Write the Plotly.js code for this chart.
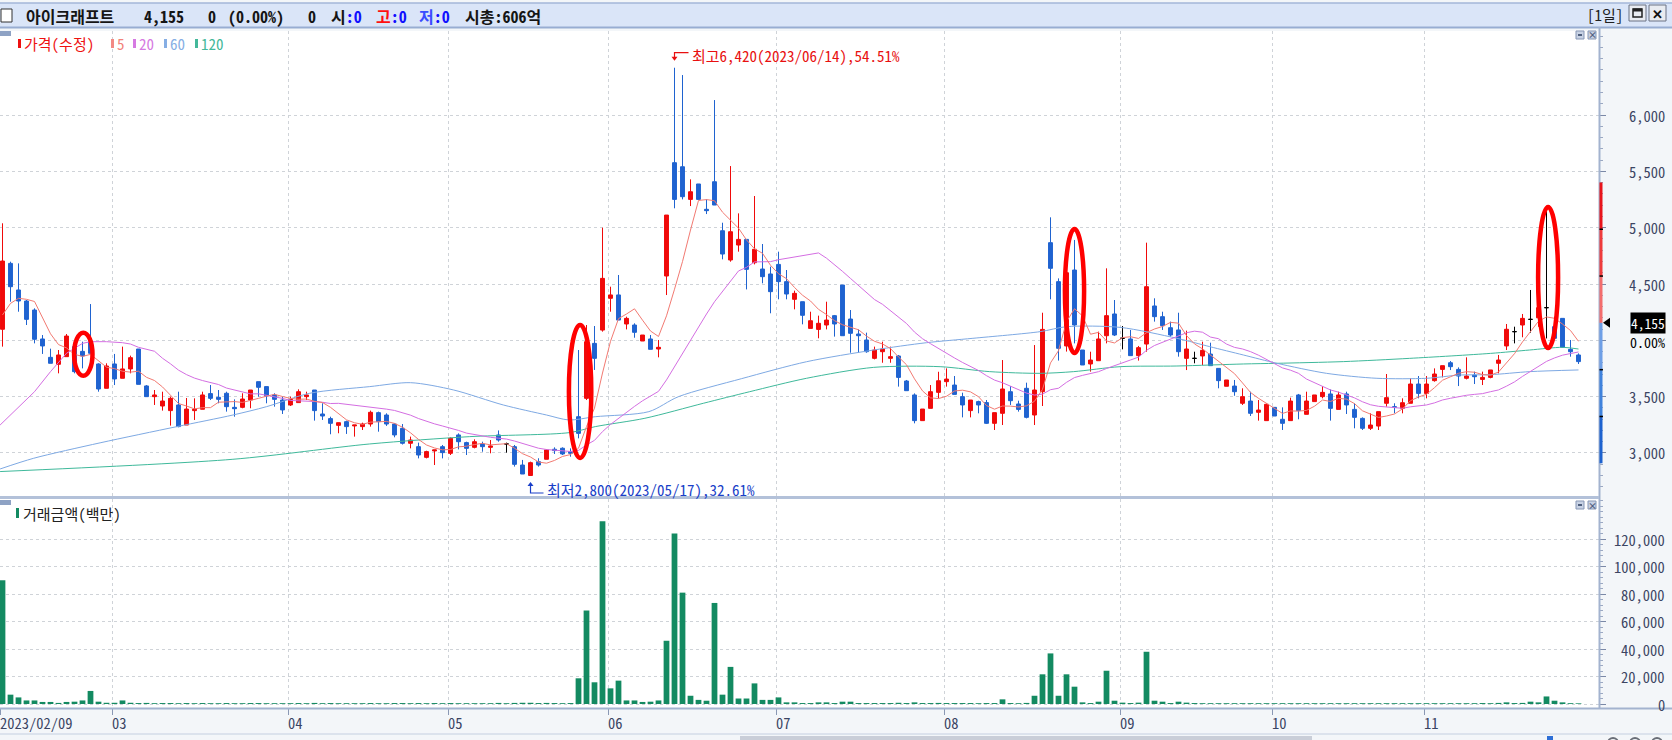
<!DOCTYPE html>
<html>
<head>
<meta charset="utf-8">
<script src="https://cdn.plot.ly/plotly-3.0.1.min.js"></script>
<style>
html,body{margin:0;padding:0;background:#f3f6f9;overflow:hidden;}
#chart{width:1672px;height:740px;}
</style>
</head>
<body>
<div id="chart"></div>
<script>
// ================= DATA =================
const stockName = '아이크래프트';
const currentPrice = 4155;
const marketCapText = '606억';

const tradingDays = {
  '2023/02': [9,10,13,14,15,16,17,20,21,22,23,24,27,28],
  '2023/03': [2,3,6,7,8,9,10,13,14,15,16,17,20,21,22,23,24,27,28,29,30,31],
  '2023/04': [3,4,5,6,7,10,11,12,13,14,17,18,19,20,21,24,25,26,27,28],
  '2023/05': [2,3,4,8,9,10,11,12,15,16,17,18,19,22,23,24,25,26,30,31],
  '2023/06': [1,2,5,7,8,9,12,13,14,15,16,19,20,21,22,23,26,27,28,29,30],
  '2023/07': [3,4,5,6,7,10,11,12,13,14,17,18,19,20,21,24,25,26,27,28,31],
  '2023/08': [1,2,3,4,7,8,9,10,11,14,16,17,18,21,22,23,24,25,28,29,30,31],
  '2023/09': [1,4,5,6,7,8,11,12,13,14,15,18,19,20,21,22,25,26,27],
  '2023/10': [4,5,6,10,11,12,13,16,17,18,19,20,23,24,25,26,27,30,31],
  '2023/11': [1,2,3,6,7,8,9,10,13,14,15,16,17,20,21,22,23,24,27,28]
};

const openP = [
 4098,4683,4447,4349,4269,4012,3849,3787,3855,3944,
 3902,3988,3790,3574,3790,3663,3746,3923,3595,3500,
 3417,3376,3426,3248,3376,3388,3527,3494,3530,3405,
 3405,3470,3633,3589,3515,3470,3426,3447,3500,3559,
 3346,3305,3245,3278,3240,3234,3257,3358,3337,3257,
 3219,3086,3056,2961,3018,3056,2997,3160,3092,3050,
 3080,3050,3160,3080,3056,2893,2800,2923,2944,3033,
 3042,3012,3322,3485,3973,4091,4373,4403,4145,4136,
 3994,4012,3923,4571,5577,5541,5251,5388,5163,5408,
 4973,4713,4846,4896,4689,4633,4589,4674,4521,4364,
 4343,4106,4097,4136,4219,4491,4189,4056,4003,3840,
 3899,3840,3861,3639,3515,3287,3396,3538,3633,3603,
 3500,3376,3456,3447,3263,3352,3544,3435,3574,3337,
 3544,4867,4521,3950,4624,3914,3790,3819,4041,4234,
 4018,4012,3864,3967,4305,4210,4112,4092,3840,3840,
 3861,3878,3751,3592,3594,3441,3461,3361,3287,3405,
 3299,3287,3515,3343,3456,3500,3524,3387,3524,3387,
 3307,3219,3239,3441,3411,3396,3441,3612,3529,3642,
 3742,3801,3742,3663,3692,3653,3671,3796,3950,4077,
 4136,4186,4200,4290,4121,4195,3920,3870];
const highP = [
 5039,4698,4683,4358,4284,4047,3926,3914,4056,3958,
 3988,4322,3796,3796,3879,3944,3864,3923,3603,3559,
 3544,3500,3544,3488,3485,3544,3603,3559,3544,3476,
 3530,3559,3633,3589,3530,3500,3500,3565,3544,3559,
 3441,3322,3269,3287,3248,3269,3376,3367,3352,3263,
 3257,3145,3092,3020,3027,3071,3139,3174,3100,3121,
 3100,3115,3200,3092,3071,2938,2923,2953,3030,3050,
 3050,3041,3914,4136,4127,5000,4476,4580,4210,4151,
 4047,4047,4003,5112,6420,6355,5429,5388,5251,6133,
 5044,5547,5127,4896,5281,4855,4654,4787,4624,4441,
 4343,4254,4219,4343,4225,4491,4269,4097,4068,3944,
 3988,3944,3870,3648,3529,3390,3603,3721,3751,3683,
 3535,3470,3464,3470,3358,3825,3594,3464,3624,3958,
 4245,5092,4550,4700,4891,3914,3899,4077,4639,4358,
 4127,4092,3950,4867,4373,4254,4166,4245,4086,3899,
 3988,3979,3751,3648,3648,3574,3544,3470,3441,3405,
 3405,3491,3524,3544,3515,3594,3564,3544,3544,3441,
 3316,3352,3367,3701,3441,3485,3663,3683,3683,3751,
 3775,3816,3760,3849,3722,3722,3737,3870,4145,4121,
 4234,4447,4400,5157,4210,4195,4003,3884];
const lowP = [
 3944,4343,4254,4136,3973,3879,3796,3707,3855,3707,
 3751,3885,3544,3574,3603,3663,3707,3609,3500,3426,
 3376,3243,3228,3248,3293,3388,3470,3441,3367,3322,
 3397,3397,3500,3441,3411,3346,3417,3447,3470,3287,
 3293,3166,3175,3169,3145,3204,3234,3189,3240,3139,
 3075,3041,2952,2952,2893,2952,2982,3032,2982,3041,
 3011,2997,3100,3003,2879,2813,2800,2879,2944,2991,
 2982,2967,3130,3470,3737,4077,4254,4180,4097,4023,
 3994,3920,3849,4402,5172,5251,5192,5251,5121,5201,
 4719,4698,4787,4452,4674,4506,4240,4364,4364,4275,
 4142,4106,4018,4097,4033,4041,3890,3890,3890,3831,
 3801,3801,3589,3553,3263,3287,3396,3485,3589,3520,
 3316,3316,3352,3257,3204,3248,3426,3367,3307,3248,
 3417,4364,3820,3900,3973,3781,3722,3819,3973,4038,
 3920,3864,3820,3899,4166,4092,4032,3855,3736,3796,
 3781,3775,3574,3592,3508,3426,3328,3287,3287,3328,
 3204,3287,3299,3343,3456,3485,3287,3387,3346,3219,
 3204,3204,3204,3411,3352,3352,3441,3485,3485,3633,
 3671,3736,3594,3653,3612,3603,3663,3707,3914,3973,
 4027,4068,4120,4017,4018,3938,3855,3790];
const closeP = [
 4704,4476,4349,4186,4009,3950,3796,3870,4038,3722,
 3861,3885,3568,3772,3657,3746,3846,3609,3500,3515,
 3461,3485,3234,3390,3388,3515,3485,3476,3411,3393,
 3479,3559,3583,3506,3476,3382,3476,3544,3515,3376,
 3328,3263,3269,3234,3248,3257,3361,3278,3257,3160,
 3086,3115,2982,3012,3027,3003,3130,3100,3041,3100,
 3056,3062,3115,3080,2899,2813,2914,2893,3027,3021,
 2991,2997,3174,3988,3840,4550,4403,4180,4195,4071,
 4047,3920,3938,5112,5251,5275,5319,5251,5151,5201,
 4766,4964,4896,4630,4808,4565,4432,4521,4411,4417,
 4222,4174,4151,4180,4145,4041,4062,4041,3899,3914,
 3923,3855,3671,3553,3287,3390,3544,3641,3656,3520,
 3426,3470,3426,3263,3358,3568,3464,3387,3316,3559,
 4097,4639,3929,4600,4136,3781,3825,4012,4219,4047,
 4018,3864,3935,4476,4210,4130,4047,3899,3923,3840,
 3911,3775,3642,3648,3544,3500,3352,3381,3432,3328,
 3263,3461,3376,3461,3515,3538,3396,3515,3426,3316,
 3219,3248,3367,3491,3405,3446,3612,3529,3612,3701,
 3775,3766,3683,3683,3677,3671,3737,3825,4098,4077,
 4195,4186,4290,4290,4018,3938,3899,3811];
// 거래금액 (백만원)
const tradeValue = [
 90000,6800,4800,2600,2600,1500,1500,800,1500,1700,
 2600,9500,1700,900,900,2600,900,700,800,600,
 700,700,600,700,600,700,600,600,700,600,
 600,700,700,600,600,600,600,700,600,800,
 600,700,600,600,600,600,700,600,600,700,
 700,600,700,600,700,600,700,600,600,600,
 600,600,800,600,800,900,900,700,800,700,
 600,700,18700,68000,15800,133000,11400,17000,2600,2600,
 1500,1700,2600,46000,124000,81000,6000,3000,2400,73500,
 6800,27000,4000,4000,15000,3000,3000,4800,1200,1200,
 700,700,1200,1200,700,1700,1700,700,700,700,
 700,700,900,700,1200,700,700,800,700,700,
 700,700,600,700,700,3400,700,600,800,6000,
 21600,36800,6000,21600,12600,1200,700,1700,24200,2400,
 1000,700,1000,38000,2400,1700,700,1700,1000,700,
 600,600,600,600,600,600,600,600,600,600,
 600,600,600,600,600,600,600,600,600,600,
 600,600,600,600,600,600,600,600,600,600,
 600,600,600,600,600,700,600,800,1200,700,
 800,1700,1200,5500,2400,1200,600,500];

// moving averages: first values (before enough data in view)
const ma5HeadIdx = [0,1,2,3];
const ma5HeadVal = [4225,4328,4373,4364];
const ma20HeadIdx = [-0.3,2,4,6,8,10,11,13,15,16,17];
const ma20HeadVal = [3248,3411,3544,3722,3885,3973,3988,3988,3979,3967,3938];
// 60 / 120 day averages
const ma60Idx = [-0.3,3.9,12.2,21.8,28.8,33,38.4,45.9,51,56.4,62.6,68,70.8,74.1,80.8,84.5,92.4,100.5,108.9,115.5,121.3,129.7,133,139.7,146.8,150.9,155.1,159.3,165.5,171.8,178,182.2,186,190.9,197];
const ma60Val = [2858,2953,3090,3234,3337,3411,3530,3589,3624,3559,3426,3337,3293,3322,3367,3500,3660,3810,3914,3979,4018,4077,4121,4115,4018,3944,3870,3796,3707,3663,3663,3692,3695,3722,3737];
const ma120Idx = [-0.3,28.8,45.9,58.4,70.9,74.1,80.3,87.6,93.4,100.5,108.9,117.2,123.4,129.7,133.9,139.7,146.8,155.1,159.3,167.6,175.9,186,190.9,195,197];
const ma120Val = [2835,2944,3080,3145,3181,3234,3308,3441,3544,3663,3760,3766,3722,3707,3722,3766,3772,3790,3796,3811,3840,3884,3914,3938,3923];

const monthTickIdx = [0,14,36,56,76,97,118,140,159,178];
const monthTickText = ['2023/02/09','03','04','05','06','07','08','09','10','11'];
const priceTicks = [3000,3500,4000,4500,5000,5500,6000];
const volTicks = [0,20000,40000,60000,80000,100000,120000];

// hand-drawn red ellipses on the chart (candle index, price span)
const circled = [
  {i:10.1, top:4068, bottom:3686, half:1.15},
  {i:72.2, top:4136, bottom:2956, half:1.4},
  {i:134,  top:4988, bottom:3888, half:1.2},
  {i:193.2,top:5183, bottom:3932, half:1.25}
];

// ================= BUILD =================
const dates = [];
for (const m in tradingDays) tradingDays[m].forEach(d => dates.push(m + '/' + String(d).padStart(2,'0')));
const N = closeP.length;
const idx = closeP.map((_, i) => i);

const UP = '#f00a0a', DN = '#1f63d0', DOJI = '#000000';
const MONO = "'Noto Sans Mono CJK KR','DejaVu Sans Mono',monospace";
const SANS = "'Noto Sans CJK KR','Noto Sans',sans-serif";

// pixel frame
const PL = 0, PR = 1599, PT = 31, PB = 708;
const PW = PR - PL, PH = PB - PT;
const xp = px => (px - PL) / PW;
const yp = py => (PB - py) / PH;
const priceDomain = [yp(496), 1];
const volDomain = [0, yp(499)];
const priceRange = [2618, 6746];
const volRange = [-2900, 149100];
const wonPerPx = (priceRange[1] - priceRange[0]) / (496 - PT);
const idxPerPx = 1 / 8;

function candleTrace(cond, color) {
  const t = {x: [], open: [], high: [], low: [], close: []};
  for (let i = 0; i < N; i++) if (cond(i)) {
    t.x.push(i); t.open.push(openP[i]); t.high.push(highP[i]); t.low.push(lowP[i]); t.close.push(closeP[i]);
  }
  return Object.assign(t, {
    type: 'candlestick', xaxis: 'x', yaxis: 'y', whiskerwidth: 0,
    increasing: {line: {color: color, width: 1}, fillcolor: color},
    decreasing: {line: {color: color, width: 1}, fillcolor: color},
    hoverinfo: 'none', showlegend: false
  });
}
const avg = a => a.reduce((s, v) => s + v, 0) / a.length;

const ma5x = ma5HeadIdx.slice(), ma5y = ma5HeadVal.slice();
for (let i = 4; i < N; i++) { ma5x.push(i); ma5y.push(avg(closeP.slice(i - 4, i + 1))); }
const ma20x = ma20HeadIdx.slice(), ma20y = ma20HeadVal.slice();
for (let i = 19; i < N; i++) { ma20x.push(i); ma20y.push(avg(closeP.slice(i - 19, i + 1))); }

function maTrace(x, y, color, spline) {
  return {type: 'scatter', mode: 'lines', x: x, y: y, xaxis: 'x', yaxis: 'y',
    line: {color: color, width: 1, shape: spline ? 'spline' : 'linear', smoothing: 0.8},
    hoverinfo: 'none', showlegend: false};
}

const traces = [
  maTrace(ma120Idx, ma120Val, '#3fb99b', true),
  maTrace(ma60Idx, ma60Val, '#7ea9e3', true),
  maTrace(ma20x, ma20y, '#d46ee2', false),
  maTrace(ma5x, ma5y, '#f27a72', false),
  candleTrace(i => closeP[i] > openP[i], UP),
  candleTrace(i => closeP[i] < openP[i], DN),
  candleTrace(i => closeP[i] === openP[i], DOJI),
  {type: 'bar', x: idx, y: tradeValue, xaxis: 'x', yaxis: 'y2', width: 0.72,
   marker: {color: '#138a61', line: {width: 0}}, hoverinfo: 'none', showlegend: false}
];

// ================= DECORATION =================
const shapes = [];
const annotations = [];
function rectPx(x0, y0, x1, y1, fill, line) {
  shapes.push({type: 'rect', xref: 'paper', yref: 'paper', x0: xp(x0), x1: xp(x1), y0: yp(y1), y1: yp(y0),
    fillcolor: fill, line: line || {width: 0}, layer: 'above'});
}
function linePx(x0, y0, x1, y1, color, w) {
  shapes.push({type: 'line', xref: 'paper', yref: 'paper', x0: xp(x0), x1: xp(x1), y0: yp(y0), y1: yp(y1),
    line: {color: color, width: w || 1}, layer: 'above'});
}
function circlePx(cx, cy, r, color) {
  shapes.push({type: 'circle', xref: 'paper', yref: 'paper', x0: xp(cx - r), x1: xp(cx + r), y0: yp(cy + r), y1: yp(cy - r),
    line: {color: color, width: 2}, fillcolor: 'rgba(0,0,0,0)', layer: 'above'});
}
function textPx(x, y, text, size, color, anchor, family, weight) {
  annotations.push({xref: 'paper', yref: 'paper', x: xp(x), y: yp(y), text: text, showarrow: false,
    xanchor: anchor || 'left', yanchor: 'middle', borderpad: 0,
    font: {family: family || MONO, size: size, color: color, weight: weight || 'normal'}});
}

// header band
rectPx(0, 3, 1672, 27, '#dae5f8');
linePx(0, 3, 1672, 3, '#a3b6d8', 1.5);
linePx(0, 27.5, 1672, 27.5, '#98add2', 2);
rectPx(1, 9, 12, 22, '#ffffff', {color: '#333333', width: 1});
textPx(25, 16, stockName, 16, '#151515', 'left', MONO, 'bold');
textPx(143, 16, currentPrice.toLocaleString('en-US'), 16, '#151515', 'left', MONO, 'bold');
textPx(207, 16, '0', 16, '#151515', 'left', MONO, 'bold');
textPx(227, 16, '(0.00%)', 16, '#151515', 'left', MONO, 'bold');
textPx(307, 16, '0', 16, '#151515', 'left', MONO, 'bold');
textPx(330, 16, "시<span style='color:#1010ff'>:0</span>", 16, '#151515', 'left', MONO, 'bold');
textPx(375, 16, "<span style='color:#ff1010'>고</span><span style='color:#1010ff'>:0</span>", 16, '#151515', 'left', MONO, 'bold');
textPx(418, 16, "<span style='color:#3a4cff'>저</span><span style='color:#1010ff'>:0</span>", 16, '#151515', 'left', MONO, 'bold');
textPx(464, 16, '시총:' + marketCapText, 16, '#151515', 'left', MONO, 'bold');
textPx(1586, 15, '[1일]', 15, '#202020', 'left', MONO);
rectPx(1629, 5, 1646, 21, '#e9ecf1', {color: '#6b7384', width: 1});
rectPx(1649, 5, 1666, 21, '#e9ecf1', {color: '#6b7384', width: 1});
rectPx(1633, 9, 1642, 17, 'rgba(0,0,0,0)', {color: '#222', width: 1.5});
linePx(1633, 10, 1642, 10, '#222', 3);
textPx(1657.5, 13.5, '✕', 13, '#111', 'center', SANS, 'bold');

// right axis area frame lines
linePx(1599.5, 27, 1599.5, 708, '#a3b3cf', 2);
linePx(0, 708.5, 1672, 708.5, '#a3b3cf', 2);
rectPx(0, 496, 1599, 499, '#b3c1d9');
linePx(0, 734, 1672, 734, '#c4cfe0', 1);
rectPx(740, 736, 1312, 740, '#c9ced8');
rectPx(1547, 736, 1553, 740, '#2d6fd6');
circlePx(1613, 743, 5, '#6a6f78');
circlePx(1635, 743, 5, '#6a6f78');
circlePx(1657, 743, 5, '#6a6f78');

// panel handles and buttons
rectPx(0, 31, 11, 36, '#8ea2c4');
rectPx(0, 500, 11, 505, '#8ea2c4');
[[31, 39], [501, 509]].forEach(([a, b]) => {
  rectPx(1576, a, 1584, b, '#c8d2e4', {color: '#8797b5', width: 1});
  rectPx(1588, a, 1596, b, '#c8d2e4', {color: '#8797b5', width: 1});
  linePx(1578, (a + b) / 2, 1582, (a + b) / 2, '#50607e', 2);
  textPx(1592, (a + b) / 2, '×', 9, '#50607e', 'center', SANS, 'bold');
});

// legend of price panel
const legendItems = [
  {x: 18, label: '가격(수정)', color: '#ee1111', text: '#ee1111'},
  {x: 111, label: '5', color: '#f28a84', text: '#f2827a'},
  {x: 133, label: '20', color: '#d67ae2', text: '#d67ae2'},
  {x: 164, label: '60', color: '#86aee4', text: '#86aee4'},
  {x: 195, label: '120', color: '#44b89a', text: '#44b89a'}
];
legendItems.forEach(it => {
  rectPx(it.x, 39, it.x + 3, 48, it.color);
  textPx(it.x + 5, 43.5, it.label, 15, it.text, 'left', MONO);
});
rectPx(16, 508, 19, 518, '#138a61');
textPx(22, 513, '거래금액(백만)', 15, '#222222', 'left', MONO);

// y tick labels (right aligned)
const LBLX = xp(1666);
priceTicks.forEach(v => {
  if (Math.abs(v - currentPrice) < 200) return;
  annotations.push({xref: 'paper', yref: 'y', x: LBLX, y: v, text: v.toLocaleString('en-US'), borderpad: 0,
    showarrow: false, xanchor: 'right', yanchor: 'middle', font: {family: MONO, size: 14.5, color: '#3c4563'}});
});
volTicks.forEach(v => {
  annotations.push({xref: 'paper', yref: 'y2', x: LBLX, y: v, text: v.toLocaleString('en-US'), borderpad: 0,
    showarrow: false, xanchor: 'right', yanchor: 'middle', font: {family: MONO, size: 14.5, color: '#3c4563'}});
});
// x tick labels (left aligned at tick)
monthTickIdx.forEach((i, k) => {
  annotations.push({xref: 'x', yref: 'paper', x: i - 0.25, y: yp(722.5), text: monthTickText[k], borderpad: 0,
    showarrow: false, xanchor: 'left', yanchor: 'middle', xshift: -2,
    font: {family: MONO, size: 14.5, color: '#3a4463'}});
});

// current price tag + limit band
annotations.push({xref: 'paper', yref: 'y', x: LBLX, y: currentPrice, text: currentPrice.toLocaleString('en-US'),
  showarrow: false, xanchor: 'right', yanchor: 'middle', bgcolor: '#000000', borderpad: 0,
  font: {family: MONO, size: 13.5, color: '#ffffff'}});
annotations.push({xref: 'paper', yref: 'y', x: LBLX, y: currentPrice, yshift: -19, text: '0.00%', borderpad: 0,
  showarrow: false, xanchor: 'right', yanchor: 'middle', font: {family: MONO, size: 14, color: '#000000'}});
const tri = 5 * wonPerPx;
shapes.push({type: 'path', xref: 'paper', yref: 'y', layer: 'above', fillcolor: '#000', line: {width: 0},
  path: `M ${xp(1603)} ${currentPrice} L ${xp(1610)} ${currentPrice + tri} L ${xp(1610)} ${currentPrice - tri} Z`});
const bandSteps = [1.3, 1.2, 1.1, 1.0, 0.9, 0.8, 0.7];
const bandColors = ['#e8141b', '#ee3b3b', '#f36d6d', '#6e9fe6', '#3f82dc', '#1d62cf'];
for (let k = 0; k < 6; k++) {
  shapes.push({type: 'rect', xref: 'paper', yref: 'y', layer: 'above', x0: xp(1599.5), x1: xp(1602.5),
    y0: currentPrice * bandSteps[k], y1: currentPrice * bandSteps[k + 1], fillcolor: bandColors[k], line: {width: 0}});
}
[1.2, 1.1, 0.9, 0.8].forEach(s => shapes.push({type: 'line', xref: 'paper', yref: 'y', layer: 'above',
  x0: xp(1599.5), x1: xp(1603), y0: currentPrice * s, y1: currentPrice * s, line: {color: '#000', width: 1.5}}));

// max / min markers
let iMax = 0, iMin = 0;
for (let i = 0; i < N; i++) { if (highP[i] > highP[iMax]) iMax = i; if (lowP[i] < lowP[iMin]) iMin = i; }
const maxH = highP[iMax], minL = lowP[iMin];
const pctUp = ((maxH / currentPrice - 1) * 100).toFixed(2);
const pctDn = ((1 - minL / currentPrice) * 100).toFixed(2);
const MAXC = '#e81010', MINC = '#1a3fc8';
{
  const yTop = maxH + 15 * wonPerPx, yTip = maxH + 7 * wonPerPx;
  shapes.push({type: 'path', xref: 'x', yref: 'y', layer: 'above', line: {color: MAXC, width: 1.2},
    path: `M ${iMax + 14 * idxPerPx} ${yTop} L ${iMax} ${yTop} L ${iMax} ${yTip + 2 * wonPerPx}`});
  shapes.push({type: 'path', xref: 'x', yref: 'y', layer: 'above', fillcolor: MAXC, line: {width: 0},
    path: `M ${iMax - 3 * idxPerPx} ${yTip + 4 * wonPerPx} L ${iMax + 3 * idxPerPx} ${yTip + 4 * wonPerPx} L ${iMax} ${yTip} Z`});
  annotations.push({xref: 'x', yref: 'y', x: iMax + 16 * idxPerPx, y: maxH + 12 * wonPerPx, borderpad: 0,
    text: '최고' + maxH.toLocaleString('en-US') + '(' + dates[iMax] + '),' + pctUp + '%',
    showarrow: false, xanchor: 'left', yanchor: 'middle', font: {family: MONO, size: 15, color: MAXC}});
}
{
  const yBot = minL - 17.5 * wonPerPx, yTip = minL - 6.5 * wonPerPx;
  shapes.push({type: 'path', xref: 'x', yref: 'y', layer: 'above', line: {color: MINC, width: 1.2},
    path: `M ${iMin + 13 * idxPerPx} ${yBot} L ${iMin} ${yBot} L ${iMin} ${yTip - 2 * wonPerPx}`});
  shapes.push({type: 'path', xref: 'x', yref: 'y', layer: 'above', fillcolor: MINC, line: {width: 0},
    path: `M ${iMin - 3 * idxPerPx} ${yTip - 4 * wonPerPx} L ${iMin + 3 * idxPerPx} ${yTip - 4 * wonPerPx} L ${iMin} ${yTip} Z`});
  annotations.push({xref: 'x', yref: 'y', x: iMin + 15 * idxPerPx, y: minL - 14 * wonPerPx, borderpad: 0,
    text: '최저' + minL.toLocaleString('en-US') + '(' + dates[iMin] + '),' + pctDn + '%',
    showarrow: false, xanchor: 'left', yanchor: 'middle', font: {family: MONO, size: 15, color: MINC}});
}

// red hand-drawn ellipses
circled.forEach(c => shapes.push({type: 'circle', xref: 'x', yref: 'y', layer: 'above',
  x0: c.i - c.half, x1: c.i + c.half, y0: c.bottom, y1: c.top, line: {color: '#ff0000', width: 4.5}}));

// ================= LAYOUT =================
const gridCommon = {showgrid: true, gridcolor: '#cfd3d8', griddash: 'dot', gridwidth: 1, zeroline: false, showline: false, fixedrange: true};
const layout = {
  width: 1672, height: 740,
  margin: {l: PL, r: 1672 - PR, t: PT, b: 740 - PB, pad: 0},
  paper_bgcolor: '#f3f6f9', plot_bgcolor: '#ffffff',
  showlegend: false, hovermode: false, dragmode: false,
  xaxis: Object.assign({}, gridCommon, {
    type: 'linear', range: [-2.5 / 8, -2.5 / 8 + PW / 8], anchor: 'y2', domain: [0, 1],
    tickmode: 'array', tickvals: monthTickIdx.map(i => i - 0.25), showticklabels: false,
    ticks: 'outside', ticklen: 6, tickcolor: '#8a98b4', tickwidth: 1,
    rangeslider: {visible: false}}),
  yaxis: Object.assign({}, gridCommon, {
    domain: priceDomain, range: priceRange, side: 'right', anchor: 'x',
    tickmode: 'array', tickvals: priceTicks, showticklabels: false,
    ticks: 'outside', ticklen: 6, tickcolor: '#7b89a7',
    minor: {tickmode: 'linear', tick0: 0, dtick: 100, ticks: 'outside', ticklen: 3, tickcolor: '#9ba8c2', showgrid: false}}),
  yaxis2: Object.assign({}, gridCommon, {
    domain: volDomain, range: volRange, side: 'right', anchor: 'x',
    tickmode: 'array', tickvals: volTicks, showticklabels: false,
    ticks: 'outside', ticklen: 6, tickcolor: '#7b89a7',
    minor: {tickmode: 'linear', tick0: 0, dtick: 4000, ticks: 'outside', ticklen: 3, tickcolor: '#9ba8c2', showgrid: false}}),
  shapes: shapes,
  annotations: annotations
};

Plotly.newPlot('chart', traces, layout, {staticPlot: true, displayModeBar: false});
</script>
</body>
</html>
